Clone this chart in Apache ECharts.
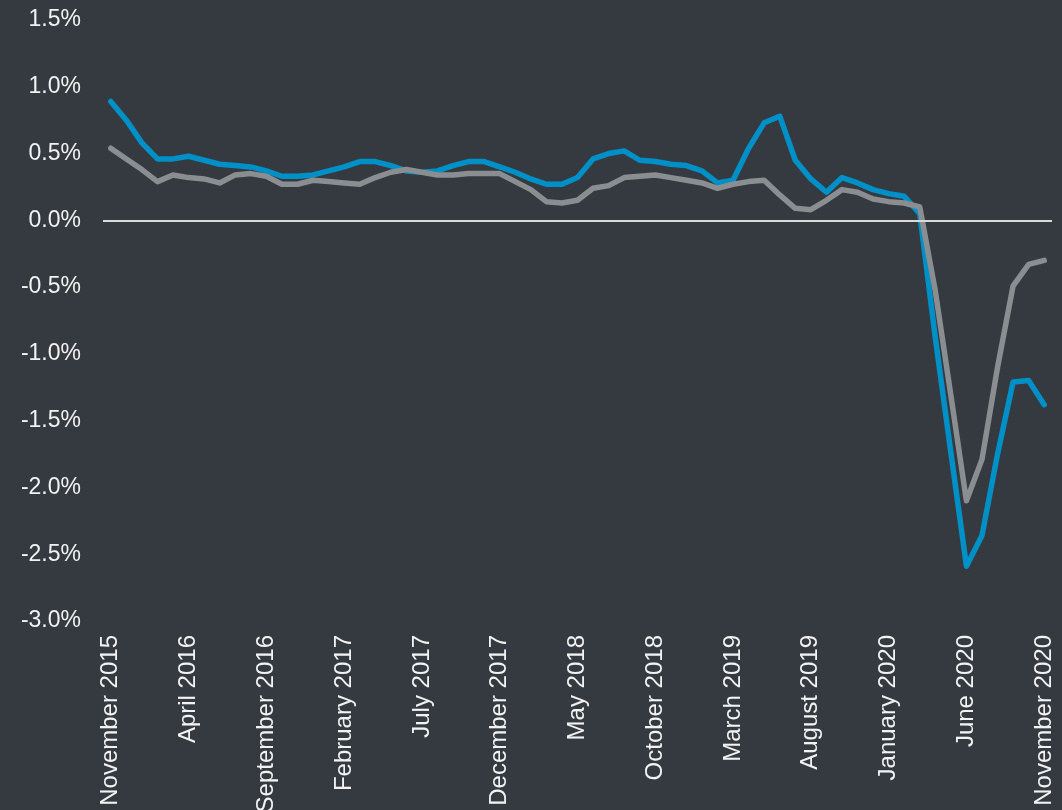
<!DOCTYPE html>
<html>
<head>
<meta charset="utf-8">
<script src="https://cdn.jsdelivr.net/npm/echarts@6/dist/echarts.min.js"></script>
<style>
  html, body { margin: 0; padding: 0; background: #353a40; }
  #chart { width: 1062px; height: 810px; }
</style>
</head>
<body>
<div id="chart"></div>
<script>
// months, Nov 2015 - Nov 2020
const months = [
  'November 2015', 'December 2015', 'January 2016', 'February 2016', 'March 2016', 'April 2016',
  'May 2016', 'June 2016', 'July 2016', 'August 2016', 'September 2016', 'October 2016',
  'November 2016', 'December 2016', 'January 2017', 'February 2017', 'March 2017', 'April 2017',
  'May 2017', 'June 2017', 'July 2017', 'August 2017', 'September 2017', 'October 2017',
  'November 2017', 'December 2017', 'January 2018', 'February 2018', 'March 2018', 'April 2018',
  'May 2018', 'June 2018', 'July 2018', 'August 2018', 'September 2018', 'October 2018',
  'November 2018', 'December 2018', 'January 2019', 'February 2019', 'March 2019', 'April 2019',
  'May 2019', 'June 2019', 'July 2019', 'August 2019', 'September 2019', 'October 2019',
  'November 2019', 'December 2019', 'January 2020', 'February 2020', 'March 2020', 'April 2020',
  'May 2020', 'June 2020', 'July 2020', 'August 2020', 'September 2020', 'October 2020',
  'November 2020'
]

// blue series (%)
const blueValues = [
  0.89, 0.75, 0.58, 0.46, 0.46, 0.48, 0.45, 0.42, 0.41, 0.40,
  0.37, 0.33, 0.33, 0.34, 0.37, 0.40, 0.44, 0.44, 0.41, 0.37,
  0.36, 0.37, 0.41, 0.44, 0.44, 0.40, 0.36, 0.31, 0.27, 0.27,
  0.32, 0.46, 0.50, 0.52, 0.45, 0.44, 0.42, 0.41, 0.37, 0.28,
  0.30, 0.54, 0.73, 0.78, 0.45, 0.31, 0.21, 0.32, 0.28, 0.23,
  0.20, 0.18, 0.05, -0.88, -1.74, -2.59, -2.36, -1.75, -1.21, -1.20,
  -1.38
]

// grey series (%)
const greyValues = [
  0.54, 0.46, 0.38, 0.29, 0.34, 0.32, 0.31, 0.28, 0.34, 0.35,
  0.33, 0.27, 0.27, 0.30, 0.29, 0.28, 0.27, 0.32, 0.36, 0.38,
  0.36, 0.34, 0.34, 0.35, 0.35, 0.35, 0.29, 0.23, 0.14, 0.13,
  0.15, 0.24, 0.26, 0.32, 0.33, 0.34, 0.32, 0.30, 0.28, 0.24,
  0.27, 0.29, 0.30, 0.19, 0.09, 0.08, 0.15, 0.23, 0.21, 0.16,
  0.14, 0.13, 0.10, -0.53, -1.31, -2.10, -1.79, -1.10, -0.49, -0.33,
  -0.30
]

const chart = echarts.init(document.getElementById('chart'))

const font = 'Liberation Sans, Arial, sans-serif'

chart.setOption({
  backgroundColor: '#353a40',
  animation: false,
  grid: {
    left: 103,
    right: 10,
    top: 20,
    bottom: 189,
    outerBoundsMode: 'none'
  },
  xAxis: {
    type: 'category',
    data: months,
    boundaryGap: true,
    axisLine: { show: false },
    axisTick: { show: false },
    axisLabel: {
      interval: 4,
      rotate: 90,
      margin: 14,
      color: '#f2f2f2',
      fontSize: 24,
      fontFamily: font
    }
  },
  yAxis: {
    type: 'value',
    min: -3,
    max: 1.5,
    interval: 0.5,
    axisLine: { show: false },
    axisTick: { show: false },
    splitLine: { show: false },
    axisLabel: {
      margin: 22,
      color: '#f2f2f2',
      fontSize: 23,
      fontFamily: font,
      formatter: v => v.toFixed(1) + '%'
    }
  },
  series: [
    {
      name: 'blue',
      type: 'line',
      data: blueValues,
      symbol: 'none',
      lineStyle: { color: '#0090c8', width: 5.5, cap: 'round', join: 'round' },
      markLine: {
        silent: true,
        symbol: 'none',
        label: { show: false },
        lineStyle: { color: '#d9d9d9', width: 2, type: 'solid' },
        data: [{ yAxis: 0 }]
      },
      z: 2
    },
    {
      name: 'grey',
      type: 'line',
      data: greyValues,
      symbol: 'none',
      lineStyle: { color: '#8a8e91', width: 5.5, cap: 'round', join: 'round' },
      z: 3
    }
  ]
})
</script>
</body>
</html>
